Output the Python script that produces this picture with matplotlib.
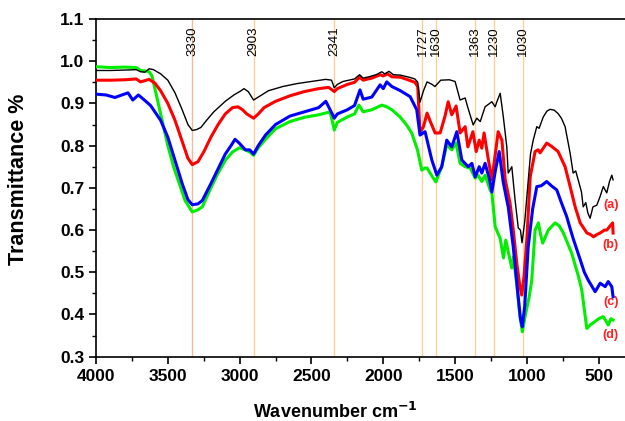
import matplotlib.pyplot as plt

plt.rcParams['font.family'] = ['Liberation Sans', 'DejaVu Sans']

# curva (a) - preta
wn_a = [4000, 3900, 3800, 3720, 3690, 3660, 3630, 3600, 3550, 3500, 3450, 3400, 3360, 3330, 3300, 3270,
        3230, 3180, 3100, 3040, 2990, 2970, 2940, 2903, 2870, 2800, 2700, 2600, 2500, 2400, 2360, 2341,
        2320, 2280, 2200, 2165, 2140, 2100, 2050, 2010, 1990, 1960, 1930, 1880, 1820, 1780, 1760, 1744,
        1720, 1695, 1660, 1640, 1600, 1540, 1500, 1465, 1430, 1411, 1374, 1349, 1325, 1291, 1244, 1221,
        1209, 1186, 1164, 1140, 1130, 1105, 1082, 1060, 1045, 1034, 1015, 995, 975, 956, 931, 915, 886,
        860, 838, 810, 783, 760, 734, 699, 678, 660, 643, 620, 608, 590, 575, 560, 540, 513, 490, 468,
        444, 425, 409, 400]
t_a = [0.978, 0.978, 0.979, 0.98, 0.975, 0.974, 0.982, 0.98, 0.97, 0.955, 0.925, 0.885, 0.85, 0.836, 0.838,
       0.843, 0.86, 0.88, 0.905, 0.92, 0.93, 0.935, 0.928, 0.908, 0.915, 0.93, 0.94, 0.947, 0.952, 0.957,
       0.955, 0.937, 0.945, 0.952, 0.958, 0.968, 0.96, 0.963, 0.968, 0.975, 0.97, 0.976, 0.968, 0.967,
       0.962, 0.958, 0.95, 0.903, 0.93, 0.951, 0.945, 0.94, 0.955, 0.956, 0.952, 0.908, 0.913, 0.89, 0.849,
       0.865, 0.857, 0.892, 0.904, 0.892, 0.904, 0.924, 0.868, 0.797, 0.735, 0.75, 0.67, 0.605, 0.6, 0.57,
       0.62, 0.7, 0.78, 0.813, 0.845, 0.841, 0.868, 0.882, 0.886, 0.884, 0.876, 0.865, 0.845, 0.782, 0.735,
       0.74, 0.719, 0.69, 0.655, 0.665, 0.64, 0.628, 0.655, 0.659, 0.68, 0.703, 0.688, 0.715, 0.73, 0.719]

# curva (b) - vermelha
wn_b = [4000, 3900, 3800, 3720, 3690, 3660, 3630, 3590, 3550, 3500, 3450, 3400, 3360, 3330, 3290, 3250,
        3200, 3150, 3100, 3050, 3011, 2980, 2950, 2903, 2870, 2830, 2750, 2650, 2550, 2450, 2380, 2341,
        2320, 2250, 2200, 2165, 2140, 2080, 2020, 2000, 1970, 1940, 1880, 1820, 1780, 1760, 1744, 1720,
        1695, 1670, 1639, 1604, 1570, 1548, 1523, 1493, 1465, 1430, 1411, 1376, 1353, 1332, 1314, 1298,
        1270, 1244, 1220, 1200, 1174, 1151, 1117, 1095, 1070, 1050, 1036, 1020, 1000, 977, 943, 922, 908,
        862, 827, 783, 734, 699, 664, 629, 582, 560, 536, 510, 490, 460, 444, 420, 403, 400]
t_b = [0.955, 0.955, 0.956, 0.958, 0.951, 0.954, 0.957, 0.948, 0.93, 0.9, 0.86, 0.81, 0.77, 0.755, 0.762,
       0.785, 0.82, 0.85, 0.875, 0.89, 0.892, 0.885, 0.875, 0.865, 0.875, 0.89, 0.905, 0.918, 0.928, 0.935,
       0.938, 0.928, 0.935, 0.945, 0.95, 0.962, 0.955, 0.96, 0.968, 0.965, 0.97, 0.963, 0.962, 0.955, 0.95,
       0.94, 0.83, 0.845, 0.877, 0.855, 0.83, 0.83, 0.87, 0.904, 0.873, 0.894, 0.83, 0.845, 0.797, 0.833,
       0.786, 0.813, 0.794, 0.83, 0.77, 0.719, 0.78, 0.833, 0.813, 0.719, 0.663, 0.6, 0.52, 0.47, 0.446,
       0.49, 0.58, 0.726, 0.786, 0.79, 0.783, 0.806, 0.798, 0.786, 0.75, 0.703, 0.655, 0.617, 0.593, 0.59,
       0.584, 0.59, 0.593, 0.6, 0.6, 0.61, 0.617, 0.593]

# curva (c) - azul
wn_c = [4000, 3930, 3868, 3820, 3777, 3744, 3705, 3670, 3620, 3550, 3500, 3450, 3400, 3360, 3330, 3290,
        3260, 3200, 3150, 3100, 3060, 3032, 3000, 2960, 2930, 2903, 2870, 2820, 2750, 2650, 2550, 2450,
        2400, 2370, 2341, 2320, 2250, 2200, 2162, 2140, 2080, 2022, 2000, 1976, 1940, 1880, 1813, 1767,
        1744, 1709, 1662, 1627, 1593, 1558, 1523, 1488, 1453, 1409, 1383, 1360, 1332, 1314, 1291, 1260,
        1244, 1220, 1193, 1165, 1140, 1130, 1095, 1060, 1045, 1032, 1015, 991, 960, 931, 900, 862, 830,
        792, 760, 723, 700, 678, 629, 600, 574, 525, 490, 455, 434, 409, 400]
t_c = [0.922, 0.92, 0.914, 0.92, 0.925, 0.908, 0.92, 0.91, 0.895, 0.86, 0.82, 0.765, 0.71, 0.672, 0.66,
       0.662, 0.67, 0.71, 0.745, 0.78, 0.8, 0.815, 0.805, 0.79, 0.79, 0.78, 0.8, 0.825, 0.85, 0.87, 0.88,
       0.89, 0.905, 0.885, 0.865, 0.875, 0.885, 0.895, 0.932, 0.91, 0.915, 0.944, 0.935, 0.951, 0.94, 0.93,
       0.916, 0.885, 0.825, 0.833, 0.766, 0.73, 0.75, 0.813, 0.797, 0.833, 0.766, 0.75, 0.758, 0.726, 0.75,
       0.735, 0.758, 0.72, 0.69, 0.74, 0.786, 0.714, 0.671, 0.655, 0.56, 0.44, 0.39, 0.371, 0.42, 0.56,
       0.65, 0.703, 0.705, 0.715, 0.705, 0.695, 0.665, 0.632, 0.605, 0.58, 0.53, 0.5, 0.482, 0.454, 0.474,
       0.466, 0.478, 0.466, 0.442]

# curva (d) - verde
wn_d = [4000, 3900, 3800, 3720, 3690, 3660, 3630, 3610, 3580, 3540, 3500, 3460, 3420, 3380, 3330, 3290,
        3260, 3200, 3150, 3100, 3050, 3000, 2960, 2930, 2903, 2870, 2820, 2750, 2650, 2550, 2450, 2370,
        2341, 2320, 2250, 2200, 2170, 2140, 2080, 2010, 1976, 1940, 1883, 1840, 1802, 1762, 1732, 1709,
        1695, 1665, 1634, 1593, 1558, 1523, 1493, 1465, 1430, 1395, 1360, 1340, 1314, 1291, 1256, 1244,
        1221, 1186, 1163, 1147, 1130, 1105, 1093, 1070, 1050, 1032, 1010, 985, 966, 943, 920, 905, 890,
        851, 804, 775, 746, 688, 641, 618, 583, 560, 539, 500, 469, 450, 434, 415, 400]
t_d = [0.987, 0.985, 0.986, 0.985, 0.978, 0.977, 0.975, 0.965, 0.92, 0.86, 0.8, 0.75, 0.71, 0.67, 0.643,
       0.648, 0.655, 0.7, 0.735, 0.765, 0.785, 0.795, 0.79, 0.785, 0.777, 0.795, 0.815, 0.84, 0.857, 0.867,
       0.873, 0.88, 0.837, 0.855, 0.868, 0.875, 0.896, 0.88, 0.885, 0.896, 0.892, 0.885, 0.868, 0.85, 0.83,
       0.79, 0.742, 0.747, 0.747, 0.73, 0.714, 0.75, 0.802, 0.79, 0.806, 0.758, 0.75, 0.747, 0.723, 0.73,
       0.715, 0.73, 0.695, 0.688, 0.608, 0.58, 0.534, 0.576, 0.549, 0.51, 0.537, 0.47, 0.4, 0.359, 0.4,
       0.44, 0.482, 0.6, 0.617, 0.59, 0.569, 0.6, 0.617, 0.61, 0.593, 0.545, 0.49, 0.458, 0.367, 0.375,
       0.38, 0.39, 0.395, 0.385, 0.375, 0.39, 0.387]

# bandas marcadas com linhas verticais
picos = [3330, 2903, 2341, 1727, 1630, 1363, 1230, 1030]
rotulos = ['(a)', '(b)', '(c)', '(d)']
pos_rotulos = [0.66, 0.564, 0.43, 0.352]

fig = plt.figure(figsize=(6.25, 4.21), dpi=100)
ax = fig.add_axes([0.1536, 0.1527, 0.8464, 0.8022])

# linhas verticais claras atras das curvas
for p in picos:
    cor = '#f5b99a' if p == 3330 else '#f3d39a'
    ax.axvline(p, color=cor, lw=1, zorder=1)
    ax.text(p, 1.082, str(p), rotation=90, ha='center', va='top', fontsize=9.5, zorder=3)

ax.plot(wn_a, t_a, color='black', lw=1, zorder=5)
ax.plot(wn_b, t_b, color='#ff0000', lw=2.2, zorder=4)
ax.plot(wn_c, t_c, color='#0000ff', lw=2.2, zorder=4)
ax.plot(wn_d, t_d, color='#00ee00', lw=2.2, zorder=3)

# letras das amostras no canto direito
for r, y in zip(rotulos, pos_rotulos):
    ax.text(415, y, r, color='#ff2020', fontsize=9, fontweight='bold', ha='center', va='center')

ax.set_xlim(4000, 317)
ax.set_ylim(0.3, 1.1)
ax.set_xticks([4000, 3500, 3000, 2500, 2000, 1500, 1000, 500])
ax.set_xticks(range(3750, 300, -500), minor=True)
ax.set_yticks([0.3, 0.4, 0.5, 0.6, 0.7, 0.8, 0.9, 1.0, 1.1])
ax.set_yticks([0.35, 0.45, 0.55, 0.65, 0.75, 0.85, 0.95, 1.05], minor=True)
ax.set_yticklabels(['0.3', '0.4', '0.5', '0.6', '0.7', '0.8', '0.9', '1.0', '1.1'])
ax.tick_params(which='major', length=5, width=1.2, labelsize=12.5)
ax.tick_params(which='minor', length=3, width=1)
for lab in ax.get_xticklabels() + ax.get_yticklabels():
    lab.set_fontweight('bold')

ax.spines['right'].set_visible(False)
for s in ['left', 'bottom', 'top']:
    ax.spines[s].set_linewidth(1.2)

ax.set_xlabel('Wavenumber cm$^{\\mathbf{-1}}$', fontsize=13, fontweight='bold')
ax.set_ylabel('Transmittance %', fontsize=15.5, fontweight='bold')
ax.xaxis.set_label_coords(0.452, -0.135)
ax.yaxis.set_label_coords(-0.127, 0.526)

fig.savefig('out.png', dpi=100)
